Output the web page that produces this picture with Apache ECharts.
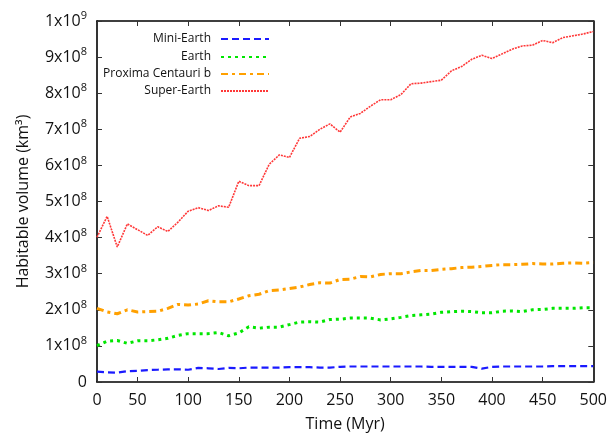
<!DOCTYPE html>
<html>
<head>
<meta charset="utf-8">
<script src="https://cdn.jsdelivr.net/npm/echarts@6/dist/echarts.min.js"></script>
<style>html,body{margin:0;padding:0;background:#fff;}#c{width:610px;height:437px;}</style>
</head>
<body>
<div id="c"></div>
<script>
// Time in Myr
const times = [10,20,30,40,50,60,70,80,90,100,110,120,130,140,150,160,170,180,190,200,
  210,220,230,240,250,260,270,280,290,300,310,320,330,340,350,360,370,380,390,400,
  410,420,430,440,450,460,470,480,490,500];
// Habitable volume, in units of 1e8 km^3
const miniEarth = [0.29,0.27,0.26,0.30,0.31,0.33,0.34,0.35,0.35,0.34,0.39,0.38,0.36,0.39,0.38,0.40,0.40,0.40,0.40,0.41,
  0.41,0.41,0.40,0.40,0.42,0.43,0.43,0.43,0.43,0.43,0.43,0.43,0.43,0.42,0.42,0.42,0.42,0.42,0.37,0.42,
  0.43,0.43,0.43,0.43,0.43,0.44,0.44,0.44,0.44,0.44];
const earth = [1.01,1.13,1.15,1.07,1.14,1.14,1.17,1.21,1.29,1.34,1.34,1.34,1.37,1.28,1.36,1.53,1.49,1.52,1.52,1.59,
  1.66,1.67,1.66,1.73,1.74,1.77,1.77,1.77,1.72,1.75,1.79,1.84,1.86,1.88,1.93,1.95,1.96,1.95,1.92,1.92,
  1.96,1.97,1.95,2.00,2.01,2.04,2.04,2.04,2.06,2.06];
const proxima = [2.04,1.94,1.89,2.00,1.94,1.95,1.96,2.04,2.15,2.13,2.16,2.25,2.22,2.22,2.30,2.39,2.43,2.53,2.55,2.59,
  2.63,2.70,2.75,2.74,2.84,2.85,2.92,2.91,2.98,3.00,3.00,3.05,3.09,3.09,3.12,3.14,3.17,3.18,3.20,3.23,
  3.25,3.25,3.26,3.28,3.27,3.27,3.29,3.30,3.29,3.31];
const superEarth = [4.01,4.59,3.74,4.38,4.22,4.06,4.30,4.17,4.43,4.73,4.83,4.75,4.88,4.84,5.56,5.44,5.44,6.03,6.29,6.22,
  6.75,6.80,7.00,7.15,6.92,7.34,7.44,7.64,7.82,7.82,7.96,8.26,8.28,8.32,8.36,8.62,8.74,8.94,9.05,8.96,
  9.09,9.22,9.31,9.33,9.46,9.40,9.54,9.59,9.64,9.71];
const seriesNames = ['Mini-Earth','Earth','Proxima Centauri b','Super-Earth'];
// x tick positions and their labels
const xTickValues = [10,50,100,150,200,250,300,350,400,450,500];
const xTickLabels = ['0','50','100','150','200','250','300','350','400','450','500'];
// y ticks (units of 1e8)
const yTickValues = [0,1,2,3,4,5,6,7,8,9,10];

const FONT = 'Open Sans';
const pair = (vals) => times.map((t, i) => [t, vals[i]]);
const xLabelMap = {};
xTickValues.forEach((v, i) => { xLabelMap[v] = xTickLabels[i]; });

const chart = echarts.init(document.getElementById('c'), null, {renderer: 'canvas'});
const axisLine = {show: true, onZero: false, lineStyle: {color: '#000', width: 1.6}};
const tickStyle = {show: true, inside: true, length: 5, lineStyle: {color: '#333', width: 1}};

const styles = [
  {color: '#1a1aff', width: 2.2, type: [7, 4]},
  {color: '#00e600', width: 3, type: [3, 4]},
  {color: '#ffa000', width: 3, type: [7, 4, 3, 4]},
  {color: '#ff3838', width: 1.6, type: [2, 1]}
];
const datas = [miniEarth, earth, proxima, superEarth];
const legendTops = [33, 51, 68, 85];

chart.setOption({
  animation: false,
  backgroundColor: '#fff',
  grid: {left: 97, right: 15, top: 21, bottom: 53, containLabel: false},
  legend: seriesNames.map((n, i) => ({
    data: [n], orient: 'vertical', right: 340, top: legendTops[i], padding: 0,
    align: 'right', itemWidth: 48, itemHeight: 12, selectedMode: false,
    itemStyle: {opacity: 0, borderWidth: 0},
    textStyle: {fontFamily: FONT, fontSize: 12, color: '#111', padding: [0, 5, 0, 0]}
  })),
  xAxis: [{
    type: 'value', min: 10, max: 500, position: 'bottom',
    name: 'Time (Myr)', nameLocation: 'middle', nameGap: 34,
    nameTextStyle: {fontFamily: FONT, fontSize: 16, color: '#111'},
    axisLine: axisLine,
    axisTick: Object.assign({customValues: xTickValues}, tickStyle),
    axisLabel: {customValues: xTickValues, margin: 10, fontFamily: FONT, fontSize: 16, color: '#111',
      formatter: v => xLabelMap[v] !== undefined ? xLabelMap[v] : ''},
    splitLine: {show: false}
  }, {
    type: 'value', min: 10, max: 500, position: 'top',
    axisLine: axisLine,
    axisTick: Object.assign({customValues: xTickValues}, tickStyle),
    axisLabel: {show: false}, splitLine: {show: false}
  }],
  yAxis: [{
    type: 'value', min: 0, max: 10, interval: 1, position: 'left',
    name: 'Habitable volume (km³)', nameLocation: 'middle', nameGap: 66, nameRotate: 90,
    nameTextStyle: {fontFamily: FONT, fontSize: 16, color: '#111'},
    axisLine: axisLine, axisTick: tickStyle,
    axisLabel: {
      margin: 10, color: '#111',
      formatter: v => v === 0 ? '{b|0}' : (v === 10 ? '{b|1x10}{s|9}' : '{b|' + v + 'x10}{s|8}'),
      rich: {
        b: {fontFamily: FONT, fontSize: 16, color: '#111'},
        s: {fontFamily: FONT, fontSize: 11, color: '#111', padding: [0, 0, 10, 0]}
      }
    },
    splitLine: {show: false}
  }, {
    type: 'value', min: 0, max: 10, interval: 1, position: 'right',
    axisLine: axisLine, axisTick: tickStyle, axisLabel: {show: false}, splitLine: {show: false}
  }],
  series: seriesNames.map((n, i) => ({
    name: n, type: 'line', data: pair(datas[i]), symbol: 'none', showSymbol: false,
    xAxisIndex: 0, yAxisIndex: 0,
    lineStyle: {color: styles[i].color, width: styles[i].width, type: styles[i].type},
    itemStyle: {color: styles[i].color},
    z: 10 - i
  }))
});
</script>
</body>
</html>
